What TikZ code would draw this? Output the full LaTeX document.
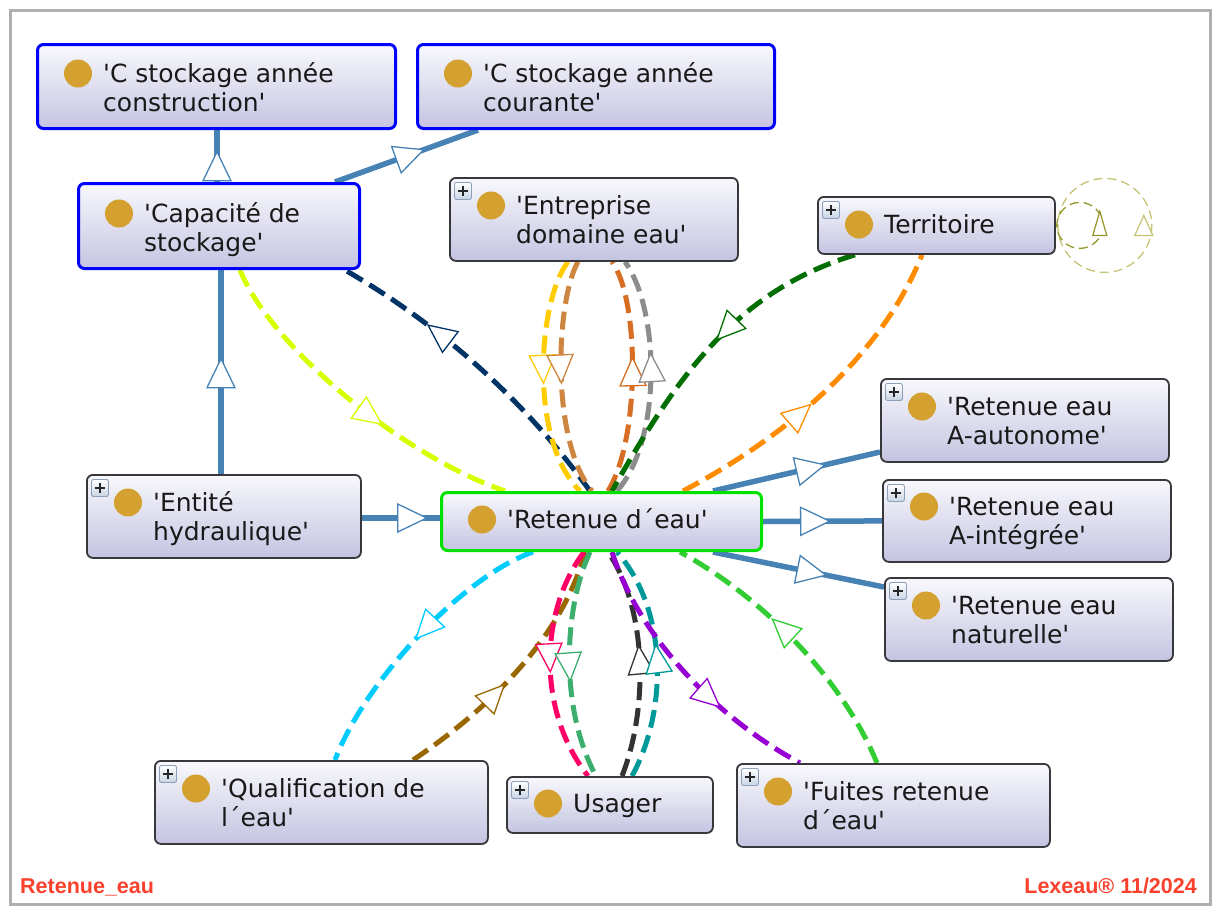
\documentclass[tikz,border=0pt]{standalone}
\usepackage{fontspec}
\newfontfamily\nf{DejaVu Sans}[Ligatures=TeXOff]
\newfontfamily\ff{Liberation Sans}
\usetikzlibrary{calc,decorations.markings}
\pgfdeclarelayer{bg}
\pgfsetlayers{bg,main}
\definecolor{sblue}{RGB}{70,130,180}
\definecolor{pureblue}{RGB}{0,0,255}
\definecolor{boxgreen}{RGB}{0,225,0}
\definecolor{boxline}{RGB}{55,55,60}
\definecolor{boxtop}{RGB}{248,248,252}
\definecolor{boxbot}{RGB}{196,196,226}
\definecolor{txt}{RGB}{25,25,25}
\definecolor{dotc}{RGB}{212,160,48}
\definecolor{plusline}{RGB}{140,160,185}
\definecolor{plusfill}{RGB}{200,212,228}
\definecolor{yg}{RGB}{215,255,0}
\definecolor{navy}{RGB}{0,51,102}
\definecolor{gold}{RGB}{255,204,0}
\definecolor{tan}{RGB}{205,133,63}
\definecolor{choc}{RGB}{215,110,35}
\definecolor{gry}{RGB}{140,140,140}
\definecolor{dgreen}{RGB}{0,110,0}
\definecolor{orng}{RGB}{255,140,0}
\definecolor{cyn}{RGB}{0,204,255}
\definecolor{brwn}{RGB}{153,102,0}
\definecolor{mgnt}{RGB}{255,0,102}
\definecolor{sgreen}{RGB}{60,175,110}
\definecolor{dgray}{RGB}{51,51,51}
\definecolor{teal}{RGB}{0,153,153}
\definecolor{purp}{RGB}{150,0,210}
\definecolor{lime}{RGB}{50,205,50}
\definecolor{olv1}{RGB}{150,150,40}
\definecolor{olv2}{RGB}{200,195,115}
\definecolor{frame}{RGB}{175,175,175}
\definecolor{footred}{RGB}{250,65,45}
\newcommand\two[2]{\begin{tabular}[t]{@{}l@{}}#1\\#2\end{tabular}}
\tikzset{
  box/.style={draw=boxline, line width=1.8pt, rounded corners=6pt, top color=boxtop, bottom color=boxbot, inner sep=0pt, anchor=north west},
  bluebox/.style={draw=pureblue, line width=3pt},
  greenbox/.style={draw=boxgreen, line width=3pt},
  lbl/.style={font=\nf\fontsize{25}{29}\selectfont, text=txt, inner sep=0pt, anchor=base west},
  golddot/.style={circle, fill=dotc, minimum size=28pt, inner sep=0pt},
  plusbox/.style={rectangle, rounded corners=2pt, draw=plusline, line width=0.9pt, top color=white, bottom color=plusfill, minimum size=17pt, inner sep=0pt, anchor=north west,
    path picture={\draw[line width=2pt, black!85] ([xshift=-5pt]path picture bounding box.center) -- ([xshift=5pt]path picture bounding box.center) ([yshift=-5pt]path picture bounding box.center) -- ([yshift=5pt]path picture bounding box.center);}},
  tri/.style n args={4}{postaction={decorate}, decoration={markings, mark=at position #1 with {\draw[solid, line width=1.3pt, draw=#2, fill=white] (-#3,#4) -- (0pt,0pt) -- (-#3,-#4) -- cycle;}}},
  isa/.style={draw=sblue, line width=5.5pt, tri={#1}{sblue}{29pt}{14pt}},
  rel/.style 2 args={draw=#2, line width=5pt, dash pattern=on 18pt off 8pt, tri={#1}{#2}{28pt}{13pt}},
  selfloop/.style={draw=#1, line width=1.3pt, dash pattern=on 9pt off 5pt},
  looptri/.style={solid, line width=1.2pt, draw=#1, fill=white},
  foot/.style={font=\ff\bfseries\fontsize{21.5}{24}\selectfont, text=footred, inner sep=0pt}
}
\newcommand\ent[8]{%
  \node[box,#6,minimum width={#4-#2},minimum height={#5-#3}] (#1) at (#2,#3) {};
  \node[golddot] (#1d) at ({#2+42},{#7-8.5}) {};
  \node[lbl] (#1t) at ({#2+67},#7) {#8};
}
\newcommand\plusicon[1]{\node[plusbox] (#1p) at ($(#1.north west)+(5,5)$) {};}
\begin{document}
\begin{tikzpicture}[x=1pt,y=-1pt]
\useasboundingbox (0,0) rectangle (1213,906);
\begin{pgfonlayer}{bg}
\fill[white] (0,0) rectangle (1213,906);
\draw[frame, line width=3pt] (10,10) rectangle (1210,904);
\end{pgfonlayer}

\ent{n1}{36}{43}{394}{127}{bluebox}{82}{\two{'C stockage année}{construction'}}
\ent{n2}{416}{43}{773}{127}{bluebox}{82}{\two{'C stockage année}{courante'}}
\ent{n3}{77}{182}{358}{267}{bluebox}{222}{\two{'Capacité de}{stockage'}}
\ent{n4}{449}{177}{737}{260}{}{214}{\two{'Entreprise}{domaine eau'}}
\plusicon{n4}
\ent{n5}{817}{196}{1054}{253}{}{233}{Territoire}
\plusicon{n5}
\ent{n6}{880}{378}{1168}{461}{}{415}{\two{'Retenue eau}{A-autonome'}}
\plusicon{n6}
\ent{n7}{882}{479}{1170}{561}{}{515}{\two{'Retenue eau}{A-intégrée'}}
\plusicon{n7}
\ent{n8}{884}{577}{1172}{660}{}{614}{\two{'Retenue eau}{naturelle'}}
\plusicon{n8}
\ent{n9}{86}{474}{360}{557}{}{511}{\two{'Entité}{hydraulique'}}
\plusicon{n9}
\ent{n10}{440}{491}{760}{549}{greenbox}{528}{'Retenue d´eau'}
\ent{n11}{154}{760}{487}{843}{}{797}{\two{'Qualification de}{l´eau'}}
\plusicon{n11}
\ent{n12}{506}{776}{712}{832}{}{812}{Usager}
\plusicon{n12}
\ent{n13}{736}{763}{1049}{846}{}{800}{\two{'Fuites retenue}{d´eau'}}
\plusicon{n13}

\node[foot, anchor=base west] (f1) at (20,893) {Retenue\_eau};
\node[foot, anchor=base east] (f2) at (1197,893) {Lexeau® 11/2024};

\begin{pgfonlayer}{bg}
% solid specialisation links
\draw[isa=0.58] ($(n3.north west)+(140,0)$) -- ($(n1.south west)+(181,0)$);
\draw[isa=0.62] ($(n3.north west)+(258,0)$) -- ($(n2.south west)+(62,0)$);
\draw[isa=0.565] ($(n9.north west)+(135,0)$) -- ($(n3.south west)+(144,0)$);
\draw[isa=0.83] ($(n9.north east)+(0,44)$) -- ($(n10.north west)+(0,27)$);
\draw[isa=0.67] ($(n10.north west)+(273,0)$) -- ($(n6.north west)+(0,74)$);
\draw[isa=0.56] (n10.east) -- (n7.west);
\draw[isa=0.66] ($(n10.south west)+(273,0)$) -- ($(n8.north west)+(0,10)$);
% dashed relations
\draw[rel={0.6}{yg}] ($(n3.south west)+(163,0)$) .. controls (270,345) and (400,455) .. ($(n10.north west)+(65,0)$);
\draw[rel={0.7}{navy}] ($(n10.north west)+(150,0)$) .. controls (521,395) and (435,322) .. ($(n3.south west)+(268,0)$);
\draw[rel={0.52}{gold}] ($(n4.south west)+(119,0)$) .. controls (538,300) and (528,440) .. ($(n10.north west)+(140,0)$);
\draw[rel={0.52}{tan}] ($(n4.south west)+(129,0)$) .. controls (556,300) and (550,440) .. ($(n10.north west)+(152,0)$);
\draw[rel={0.58}{choc}] ($(n10.north west)+(168,0)$) .. controls (640,440) and (640,300) .. ($(n4.south west)+(163,0)$);
\draw[rel={0.6}{gry}] ($(n10.north west)+(177,0)$) .. controls (662,440) and (660,310) .. ($(n4.south west)+(176,0)$);
\draw[rel={0.47}{dgreen}] ($(n5.south west)+(38,0)$) .. controls (740,290) and (680,370) .. ($(n10.north west)+(172,0)$);
\draw[rel={0.45}{orng}] ($(n10.north west)+(243,0)$) .. controls (780,440) and (880,360) .. ($(n5.south west)+(105,0)$);
\draw[rel={0.5}{cyn}] ($(n10.south west)+(93,0)$) .. controls (465,575) and (365,680) .. ($(n11.north west)+(181,0)$);
\draw[rel={0.43}{brwn}] ($(n11.north west)+(259,0)$) .. controls (486,711) and (562,639) .. ($(n10.south west)+(145,0)$);
\draw[rel={0.53}{mgnt}] ($(n10.south west)+(144,0)$) .. controls (540,610) and (536,710) .. ($(n12.north west)+(82,0)$);
\draw[rel={0.57}{sgreen}] ($(n10.south west)+(150,0)$) .. controls (563,610) and (560,710) .. ($(n12.north west)+(90,0)$);
\draw[rel={0.57}{dgray}] ($(n12.north west)+(116,0)$) .. controls (648,710) and (648,610) .. ($(n10.south west)+(168,0)$);
\draw[rel={0.57}{teal}] ($(n12.north west)+(126,0)$) .. controls (668,710) and (668,610) .. ($(n10.south west)+(177,0)$);
\draw[rel={0.66}{purp}] ($(n10.south west)+(172,0)$) .. controls (640,640) and (720,720) .. ($(n13.north west)+(64,0)$);
\draw[rel={0.61}{lime}] ($(n13.north west)+(141,0)$) .. controls (842,678) and (762,597) .. ($(n10.south west)+(240,0)$);
% self loops on Territoire
\draw[selfloop=olv2] ($(n5.east)+(49,0)$) circle[radius=47];
\draw[selfloop=olv1] ($(n5.east)+(24,0)$) circle[radius=23];
\draw[looptri=olv2] ($(n5.east)+(88,-10)$) -- ($(n5.east)+(79,10)$) -- ($(n5.east)+(97,10)$) -- cycle;
\draw[looptri=olv1] ($(n5.east)+(44,-14)$) -- ($(n5.east)+(37,10)$) -- ($(n5.east)+(51,10)$) -- cycle;
\end{pgfonlayer}
\end{tikzpicture}
\end{document}
